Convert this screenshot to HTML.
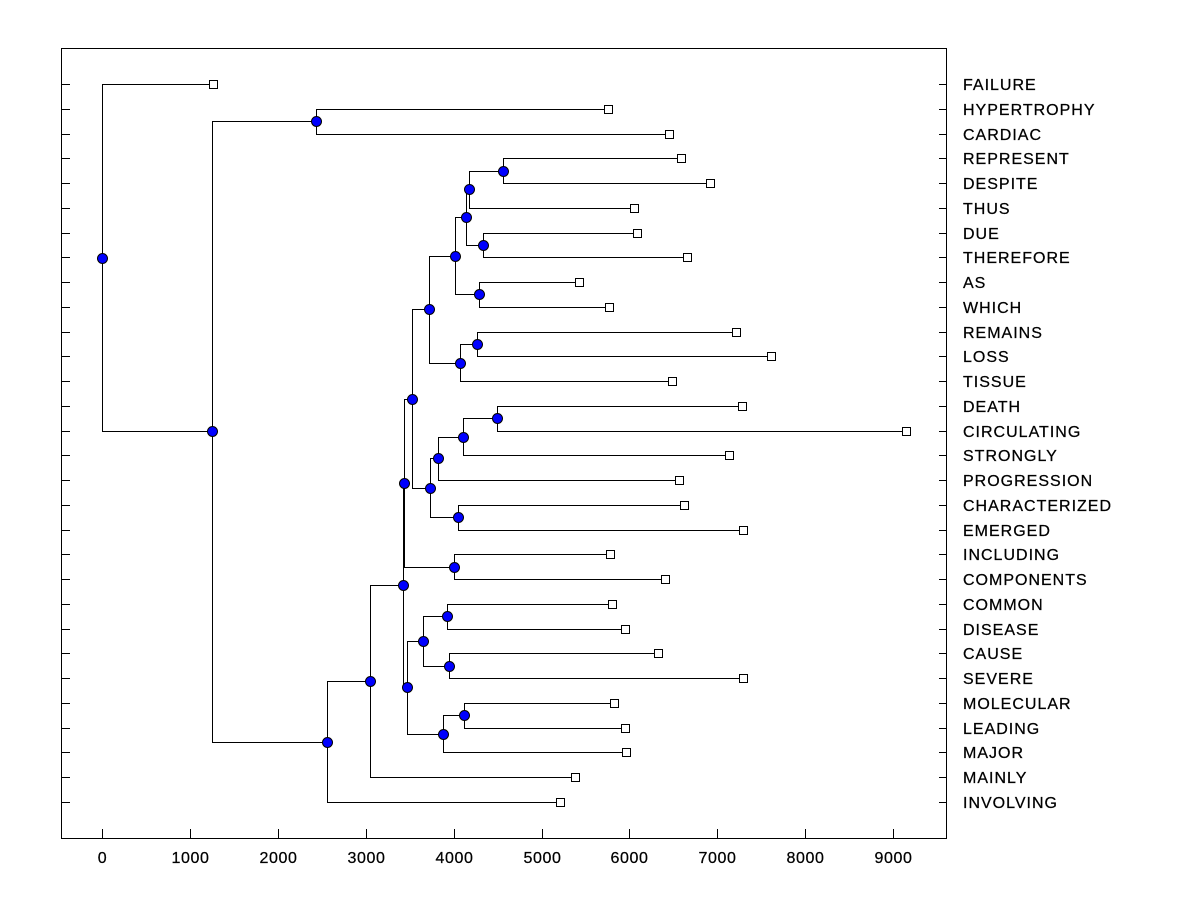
<!DOCTYPE html>
<html><head><meta charset="utf-8"><style>
html,body{margin:0;padding:0;background:#fff;}
svg{display:block;}
text{font-family:"Liberation Sans",Arial,sans-serif;font-size:16px;fill:#000;stroke:#000;stroke-width:0.25;}
.lbl{letter-spacing:1px;}
.tk{letter-spacing:0.6px;}
</style></head><body>
<svg id="chart" width="1200" height="900" xmlns="http://www.w3.org/2000/svg">
<rect x="61.5" y="48.5" width="885" height="790" fill="#fff" stroke="#000" stroke-width="1"/>
<g id="grid"></g><g id="lines"></g><g id="marks"></g><g id="labels"></g>
</svg>
<script>
const labels = ["FAILURE","HYPERTROPHY","CARDIAC","REPRESENT","DESPITE","THUS","DUE","THEREFORE","AS","WHICH","REMAINS","LOSS","TISSUE","DEATH","CIRCULATING","STRONGLY","PROGRESSION","CHARACTERIZED","EMERGED","INCLUDING","COMPONENTS","COMMON","DISEASE","CAUSE","SEVERE","MOLECULAR","LEADING","MAJOR","MAINLY","INVOLVING"];
const leafValues = [1263,5757,6451,6587,6917,6052,6086,6655,5427,5768,7213,7611,6485,7281,9147,7133,6564,6621,7292,5779,6405,5802,5950,6325,7292,5825,5950,5961,5381,5210];
const mergeLeft  = [3,30,6,31,8,33,10,36,35,13,39,40,17,41,38,19,44,21,23,47,25,50,49,46,53,54,1,56,0];
const mergeRight = [4,5,7,32,9,34,11,12,37,14,15,16,18,42,43,20,45,22,24,48,26,27,51,52,28,29,2,55,57];
const mergeHeights = [4562,4175,4334,4141,4289,4016,4266,4073,3720,4494,4107,3823,4050,3732,3527,4005,3436,3925,3948,3652,4118,3879,3470,3424,3049,2560,2435,1251,0];
const xTicks = [0,1000,2000,3000,4000,5000,6000,7000,8000,9000];

const NS="http://www.w3.org/2000/svg";
const xs = v => 102 + v*0.0879;
const ys = i => 84 + i*(802-84)/29;
function mk(tag, parent, attrs){const e=document.createElementNS(NS,tag);for(const k in attrs)e.setAttribute(k,attrs[k]);document.getElementById(parent).appendChild(e);return e;}

const n = labels.length;
const nodeX = [], nodeY = [];
for(let i=0;i<n;i++){nodeX[i]=xs(leafValues[i]);nodeY[i]=ys(i);}
for(let m=0;m<mergeHeights.length;m++){
  const a=mergeLeft[m], b=mergeRight[m], id=n+m;
  nodeX[id]=xs(mergeHeights[m]); nodeY[id]=(nodeY[a]+nodeY[b])/2;
  const x0=Math.round(nodeX[id])+0.5;
  const p = mk('path','lines',{d:`M${Math.round(nodeX[a])+0.5},${Math.round(nodeY[a])+0.5}H${x0}V${Math.round(nodeY[b])+0.5}H${Math.round(nodeX[b])+0.5}`,fill:'none',stroke:'#000','stroke-width':1});
  
  
}
for(let i=0;i<n;i++){
  const r=mk('rect','marks',{x:Math.round(nodeX[i])-3.5,y:Math.round(nodeY[i])-3.5,width:8,height:8,fill:'#fff',stroke:'#000','stroke-width':1});
  
  
  const t=mk('text','labels',{x:963,y:Math.round(nodeY[i])+6,'class':'lbl'});
  t.textContent=labels[i];
  
  
  const tk=mk('line','grid',{x1:61,x2:70,y1:Math.round(nodeY[i])+0.5,y2:Math.round(nodeY[i])+0.5,stroke:'#000'});
  
  
  const tk2=mk('line','grid',{x1:939,x2:946,y1:Math.round(nodeY[i])+0.5,y2:Math.round(nodeY[i])+0.5,stroke:'#000'});
  
  
}
for(let m=0;m<mergeHeights.length;m++){
  const id=n+m;
  const c=mk('circle','marks',{cx:Math.round(nodeX[id])+0.5,cy:Math.round(nodeY[id])+0.5,r:5,fill:'#0000ff',stroke:'#000','stroke-width':1});
  
  
}
xTicks.forEach(v=>{
  const x=Math.round(xs(v))+0.5;
  const l=mk('line','grid',{x1:x,x2:x,y1:829,y2:838,stroke:'#000'});
  
  
  const t=mk('text','labels',{x:x,y:863,'text-anchor':'middle','class':'tk'});
  t.textContent=v;
  
  
});
</script>
</body></html>
